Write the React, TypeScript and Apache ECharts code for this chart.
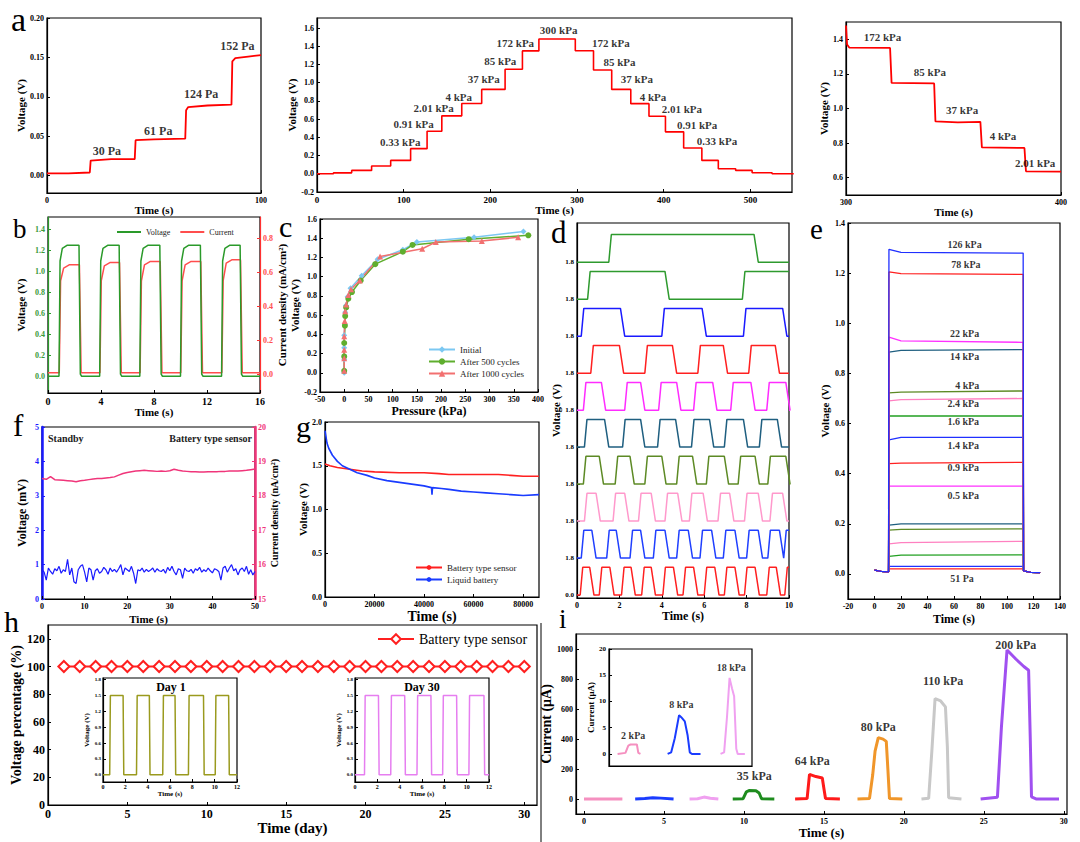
import React, { useEffect, useRef } from "react";
import * as echarts from "echarts";

const FONT = "'Liberation Serif', 'Times New Roman', Times, serif";

// ---------- panel a (left) ----------
const A1_POINTS = [[0,0.003],[10,0.003],[20,0.004],[20.4,0.019],[30,0.021],[41,0.021],[41.4,0.045],[50,0.046],[64.6,0.047],[65,0.083],[66,0.087],[75,0.089],[86.2,0.09],[86.6,0.145],[88,0.149],[94,0.151],[100,0.153]];
const A1_LABELS: [string, number, number][] = [["30 Pa",28,0.031],["61 Pa",52,0.057],["124 Pa",72,0.103],["152 Pa",89,0.165]];
const A1_Y_TICKS = [0,0.05,0.1,0.15,0.2];
const A1_X_TICKS = [0,100];

// ---------- panel a (middle) ----------
const A2_TIMES = [0,19,40,63,85,108,127,144,167,190,217,237,256,298,319,340,362,383,402,423,444,463,483,502,525,550];
const A2_LEVELS = [0,0.01,0.037,0.085,0.147,0.276,0.467,0.636,0.772,0.926,1.147,1.349,1.48,1.35,1.14,0.926,0.77,0.632,0.46,0.283,0.147,0.055,0.037,0.011,0,0];
const A2_LABELS: [string, number, number][] = [["0.33 kPa",96,0.35],["0.91 kPa",111.5,0.544],["2.01 kPa",134.6,0.717],["4 kPa",163.5,0.846],["37 kPa",192.3,1.037],["85 kPa",211.5,1.239],["172 kPa",228.8,1.434],["300 kPa",278.8,1.58],["172 kPa",339,1.434],["85 kPa",349,1.23],["37 kPa",369,1.037],["4 kPa",387.7,0.846],["2.01 kPa",421,0.706],["0.91 kPa",438.5,0.54],["0.33 kPa",461.5,0.36]];
const A2_Y_TICKS = [-0.2,0,0.2,0.4,0.6,0.8,1.0,1.2,1.4,1.6];
const A2_X_TICKS = [0,100,200,300,400,500];

// ---------- panel a (right) ----------
const A3_POINTS = [[300,1.48],[300.5,1.37],[301.5,1.352],[320.5,1.35],[321.2,1.148],[341,1.145],[341.6,0.925],[352,0.92],[362.5,0.923],[363.2,0.775],[383,0.772],[383.7,0.637],[400,0.635]];
const A3_LABELS: [string, number, number][] = [["172 kPa",317,1.415],["85 kPa",339,1.21],["37 kPa",354,0.99],["4 kPa",373,0.84],["2.01 kPa",388,0.685]];
const A3_Y_TICKS = [0.6,0.8,1.0,1.2,1.4];
const A3_X_TICKS = [300,400];

// ---------- panel b ----------
const B_EDGES = [0.83,2.34,3.9,5.37,6.93,8.44,10.0,11.5,13.1,14.5];
const B_VOLT_HIGH = [1.25,1.25,1.25,1.25,1.25];
const B_CURR_HIGH = [0.644,0.657,0.663,0.663,0.673];
const B_X_TICKS = [0,4,8,12,16];
const B_YL_TICKS = [0,0.2,0.4,0.6,0.8,1.0,1.2,1.4];
const B_YR_TICKS = [0,0.2,0.4,0.6,0.8];

// ---------- panel c ----------
const C_INITIAL = [[0,0],[0,0.14],[0,0.26],[0,0.39],[1.4,0.5],[2,0.63],[3.5,0.7],[7,0.79],[13,0.88],[36,1.01],[69,1.18],[121,1.28],[150,1.36],[268,1.41],[370,1.47]];
const C_500 = [[0,0.02],[0,0.17],[0,0.31],[1.4,0.49],[2,0.59],[4,0.68],[8.5,0.77],[16,0.84],[34,0.96],[64,1.13],[121,1.26],[141,1.33],[257,1.39],[380,1.43]];
const C_1000 = [[0,0.02],[0,0.15],[0,0.24],[0,0.38],[1,0.54],[2,0.64],[4,0.71],[8.5,0.81],[14,0.87],[32,0.96],[74,1.21],[161,1.29],[189,1.36],[284,1.37],[359,1.41]];
const C_X_TICKS = [-50,0,50,100,150,200,250,300,350,400];
const C_Y_TICKS = [-0.2,0,0.2,0.4,0.6,0.8,1.0,1.2,1.4,1.6];

// ---------- panel d (top trace first) ----------
const D_EDGES = [
  [1.5,8.35],
  [0.5,4.15,7.8],
  [0.2,2.05,4.0,5.9,7.85,9.7],
  [0.65,2.0,3.2,4.5,5.7,6.9,8.1,9.35],
  [0.3,1.15,2.25,3.0,3.85,4.7,5.5,6.4,7.25,8.2,8.95,9.85],
  [0.35,1.3,2.15,3.0,3.8,4.65,5.4,6.25,6.95,7.85,8.6,9.45],
  [0.3,1.05,1.8,2.5,3.2,4.0,4.7,5.45,6.1,6.95,7.6,8.4,9.0,9.85],
  [0.35,0.9,1.7,2.25,2.9,3.5,4.15,4.75,5.3,5.95,6.65,7.2,7.9,8.55,9.1,9.7],
  [0.2,0.7,1.4,1.85,2.5,3.0,3.6,4.15,4.7,5.25,5.8,6.35,6.9,7.45,8.0,8.55,9.0,9.55,9.75],
  [0.15,0.6,1.05,1.55,2.1,2.55,3.05,3.5,4.05,4.55,5.0,5.5,6.0,6.5,6.95,7.45,7.9,8.4,8.95,9.4,9.8],
];
const D_COLORS = ["#2e9a2e","#2e9a2e","#1a1aff","#ff2020","#ff2cff","#1f5f80","#5d8a25","#ff99cc","#2040ff","#ff2020"];
const D_TICK_LABELS = ["0.0","1.8","1.8","1.8","1.8","1.8","1.8","1.8","1.8","1.8"];
const D_X_TICKS = [0,2,4,6,8,10];

// ---------- panel e (start, middle, end level) ----------
const E_LEVELS = [
  [1.295,1.283,1.28],[1.205,1.198,1.195],[0.945,0.93,0.924],[0.885,0.892,0.895],
  [0.722,0.725,0.73],[0.69,0.695,0.7],[0.63,0.63,0.63],[0.535,0.545,0.545],
  [0.44,0.442,0.445],[0.35,0.35,0.35],[0.195,0.2,0.2],[0.175,0.178,0.18],
  [0.12,0.125,0.13],[0.07,0.075,0.076],[0.03,0.03,0.03],[0.02,0.02,0.02],
];
const E_COLORS = ["#2030ff","#ff2020","#ff30ff","#1f5f80","#5d8a25","#ff80c0","#22a022","#2030ff","#ff2020","#ff30ff","#1f5f80","#5d8a25","#ff80c0","#22a022","#2030ff","#ff2020"];
const E_LABELS: [string, number, number][] = [["126 kPa",68,1.313],["78 kPa",69,1.233],["22 kPa",68,0.96],["14 kPa",68,0.869],["4 kPa",70,0.753],["2.4 kPa",67,0.68],["1.6 kPa",67,0.609],["1.4 kPa",67,0.513],["0.9 kPa",67,0.423],["0.5 kPa",67,0.313],["51 Pa",66,-0.02]];
const E_X_TICKS = [-20,0,20,40,60,80,100,120,140];
const E_Y_TICKS = [0,0.2,0.4,0.6,0.8,1.0,1.2,1.4];

// ---------- panel f ----------
const F_VOLT = [0.85,0.78,0.55,0.9,0.8,0.72,0.88,0.82,0.95,0.75,0.85,0.8,1.15,0.7,0.9,0.5,0.45,0.85,0.95,1.0,0.78,0.5,0.9,0.85,0.55,0.82,0.88,0.75,0.8,0.92,0.85,0.72,0.9,0.8,0.86,0.78,0.88,1.0,0.7,0.9,0.85,0.8,0.95,0.75,0.45,0.85,0.82,0.9,0.78,0.86,0.8,0.84,0.9,0.78,0.88,0.82,0.8,0.86,0.75,0.92,0.82,0.95,0.8,0.7,0.88,0.85,0.6,0.9,0.82,0.8,0.86,0.75,0.88,0.83,0.92,0.78,0.85,0.8,0.9,0.82,0.76,0.88,0.85,0.8,0.55,0.9,0.95,0.78,0.9,1.0,0.82,0.88,0.7,0.85,0.9,0.8,0.95,0.72,0.85,0.7,0.8];
const F_CURR = [18.5,18.48,18.56,18.47,18.46,18.45,18.44,18.43,18.41,18.44,18.45,18.47,18.49,18.5,18.5,18.52,18.53,18.55,18.6,18.65,18.68,18.7,18.72,18.73,18.74,18.73,18.72,18.71,18.72,18.71,18.73,18.77,18.74,18.72,18.71,18.7,18.7,18.69,18.69,18.7,18.7,18.7,18.71,18.71,18.72,18.72,18.72,18.73,18.74,18.76,18.78];
const F_X_TICKS = [0,10,20,30,40,50];
const F_YL_TICKS = [0,1,2,3,4,5];
const F_YR_TICKS = [15,16,17,18,19,20];

// ---------- panel g ----------
const G_SENSOR = [[0,1.52],[2000,1.5],[5000,1.48],[10000,1.46],[15000,1.44],[20000,1.43],[30000,1.42],[40000,1.42],[46000,1.41],[50000,1.4],[60000,1.4],[70000,1.4],[75000,1.39],[80000,1.38],[86400,1.38]];
const G_LIQUID = [[0,1.9],[300,1.85],[800,1.76],[1500,1.7],[3000,1.62],[5000,1.55],[7000,1.5],[10000,1.46],[13000,1.42],[17000,1.39],[20000,1.36],[25000,1.33],[30000,1.31],[35000,1.29],[40000,1.27],[43000,1.25],[43200,1.17],[43400,1.25],[47000,1.24],[50000,1.23],[55000,1.21],[60000,1.2],[65000,1.19],[70000,1.18],[75000,1.17],[80000,1.16],[86400,1.17]];
const G_X_TICKS = [0,20000,40000,60000,80000];
const G_Y_TICKS = [0,0.5,1.0,1.5,2.0];

// ---------- panel h ----------
const H_DAYS = [1,2,3,4,5,6,7,8,9,10,11,12,13,14,15,16,17,18,19,20,21,22,23,24,25,26,27,28,29,30];
const H_VALUES = [100,100,100,100,100,100,100,100,100,100,100,100,100,100,100,100,100,100,100,100,100,100,100,100,100,100,100,100,100,100];
const H_X_TICKS = [0,5,10,15,20,25,30];
const H_Y_TICKS = [0,20,40,60,80,100,120];
const H_DAY1_EDGES = [0.6,1.8,3.0,4.15,5.35,6.45,7.65,9.0,10.05,11.25];
const H_DAY30_EDGES = [0.85,2.1,3.2,4.45,5.55,6.8,7.85,9.1,10.2,11.55];
const H_INSET_HIGH = 1.5;
const H_IN_X_TICKS = [0,2,4,6,8,10,12];
const H_IN_Y_TICKS = [0,0.3,0.6,0.9,1.2,1.5,1.8];

// ---------- panel i ----------
const I_PINK = [[0,0],[0.6,1],[1.2,0],[1.8,1],[2.4,0]];
const I_BLUE = [[3.2,0],[3.8,3],[4.3,9],[4.8,6],[5.6,0]];
const I_VIOLET = [[6.6,0],[7.1,2],[7.5,13],[7.9,5],[8.4,0]];
const I_GREEN = [[9.3,0],[9.95,2],[10.15,48],[10.35,57],[10.75,55],[10.95,40],[11.1,2],[11.9,0]];
const I_RED = [[13.2,0],[13.95,3],[14.1,165],[14.5,150],[14.9,140],[15.0,70],[15.1,3],[16.0,0]];
const I_ORANGE = [[17.1,0],[17.85,3],[18.05,160],[18.2,320],[18.4,410],[18.7,400],[18.9,385],[19.0,200],[19.1,3],[19.9,0]];
const I_GRAY = [[21.1,0],[21.55,5],[21.75,320],[21.95,670],[22.3,655],[22.6,615],[22.72,350],[22.8,8],[23.6,0]];
const I_PURPLE = [[24.8,0],[25.85,12],[26.1,480],[26.45,995],[27.0,935],[27.5,885],[27.8,860],[27.9,420],[27.98,15],[28.3,0],[29.7,0]];
const I_LABELS: [string, number, number][] = [["35 kPa",10.65,156],["64 kPa",14.27,256],["80 kPa",18.4,483],["110 kPa",22.45,788],["200 kPa",27.0,1029]];
const I_X_TICKS = [0,5,10,15,20,25,30];
const I_Y_TICKS = [0,200,400,600,800,1000];
const I_IN_PINK = [[0.6,0],[1.15,0.2],[1.35,1.6],[1.5,1.8],[1.95,1.8],[2.05,0.2],[2.2,0]];
const I_IN_BLUE = [[4.1,0],[4.35,0.3],[4.6,3],[4.9,7.4],[5.05,7],[5.3,6.2],[5.5,3.5],[5.65,0.3],[5.8,0],[6.4,0]];
const I_IN_VIOLET = [[7.8,0],[8.05,0.3],[8.25,7],[8.43,14.5],[8.6,12.5],[8.75,11],[8.9,1],[9.0,0],[9.5,0]];
const I_IN_LABELS: [string, number, number][] = [["2 kPa",1.69,3.6],["8 kPa",5.06,9.4],["18 kPa",8.55,16.4]];
const I_IN_Y_TICKS = [0,5,10,15,20];

// ---------- helpers ----------
function squareWave(edges: number[], base: number, amp: number, end: number, rw: number, fw: number) {
  const pts: number[][] = [[0, base]];
  let high = false;
  for (const t of edges) {
    if (!high) pts.push([t, base], [t + rw, base + amp]);
    else pts.push([t, base + amp], [t + fw, base]);
    high = !high;
  }
  pts.push([end, high ? base + amp : base]);
  return pts;
}

const f0 = (v: number) => String(Math.round(v));
const f1 = (v: number) => v.toFixed(1);
const f2 = (v: number) => v.toFixed(2);

function buildOption() {
  const grids: any[] = [];
  const xAxes: any[] = [];
  const yAxes: any[] = [];
  const series: any[] = [];

  const addGrid = (l: number, t: number, r: number, b: number, bg?: string) => {
    grids.push({ left: l, top: t, width: r - l, height: b - t, show: true, borderColor: "#000", borderWidth: 1.2, backgroundColor: bg || "transparent", containLabel: false, outerBoundsMode: "none" });
    return grids.length - 1;
  };
  const axis = (o: any) => {
    const lineColor = o.lineColor || "#000";
    const a: any = {
      type: "value", gridIndex: o.grid, min: o.min, max: o.max, position: o.position,
      axisLine: { show: true, onZero: false, lineStyle: { color: lineColor, width: o.lw || 1.2 } },
      axisTick: { show: o.ticks !== false, inside: true, length: 3, lineStyle: { color: lineColor, width: 1 } },
      axisLabel: { show: !!o.labels, fontFamily: FONT, fontWeight: "bold", fontSize: o.fs || 8, color: o.color || "#000", margin: o.margin ?? 3, formatter: o.fmt },
      splitLine: { show: false },
      name: o.name, nameLocation: "middle", nameGap: o.gap,
      nameTextStyle: { fontFamily: FONT, fontWeight: "bold", fontSize: o.nfs || 11, color: o.nameColor || "#000" },
    };
    if (o.labels) { a.axisLabel.customValues = o.labels; a.axisTick.customValues = o.labels; }
    return a;
  };
  const addX = (o: any) => { xAxes.push(axis(o)); return xAxes.length - 1; };
  const addY = (o: any) => { yAxes.push(axis(o)); return yAxes.length - 1; };
  const line = (xi: number, yi: number, data: any[], color: string, width = 1.5, extra: any = {}) => {
    series.push({ type: "line", xAxisIndex: xi, yAxisIndex: yi, data, showSymbol: false, symbol: "none", silent: true, lineStyle: { color, width }, itemStyle: { color }, ...extra });
  };
  const texts = (xi: number, yi: number, items: [string, number, number][], fs: number, color = "#000") => {
    series.push({
      type: "scatter", xAxisIndex: xi, yAxisIndex: yi, symbol: "circle", symbolSize: 1, silent: true, z: 6,
      itemStyle: { color: "rgba(0,0,0,0)" },
      data: items.map(([t, x, y]) => ({ name: t, value: [x, y] })),
      label: { show: true, position: "inside", formatter: (p: any) => p.name, fontFamily: FONT, fontWeight: "bold", fontSize: fs, color },
    });
  };

  // a1
  let g = addGrid(47, 18, 261, 193);
  let xi = addX({ grid: g, min: 0, max: 100, labels: A1_X_TICKS, fmt: f0, name: "Time (s)", gap: 9, fs: 8 });
  let yi = addY({ grid: g, min: -0.022, max: 0.2, labels: A1_Y_TICKS, fmt: f2, name: "Voltage (V)", gap: 20, fs: 8 });
  line(xi, yi, A1_POINTS, "#ff0000", 1.8);
  texts(xi, yi, A1_LABELS, 12);

  // a2
  g = addGrid(317, 18, 792, 192);
  xi = addX({ grid: g, min: 0, max: 548, labels: A2_X_TICKS, fmt: f0, name: "Time (s)", gap: 10, fs: 9 });
  yi = addY({ grid: g, min: -0.2, max: 1.71, labels: A2_Y_TICKS, fmt: f1, name: "Voltage (V)", gap: 19, fs: 8 });
  line(xi, yi, A2_TIMES.map((t, i) => [t, A2_LEVELS[i]]), "#ff0000", 1.6, { step: "end" });
  texts(xi, yi, A2_LABELS, 11);

  // a3
  g = addGrid(846, 22, 1061, 195);
  xi = addX({ grid: g, min: 300, max: 400, labels: A3_X_TICKS, fmt: f0, name: "Time (s)", gap: 9, fs: 8 });
  yi = addY({ grid: g, min: 0.5, max: 1.5, labels: A3_Y_TICKS, fmt: f1, name: "Voltage (V)", gap: 17, fs: 8 });
  line(xi, yi, A3_POINTS, "#ff0000", 1.8);
  texts(xi, yi, A3_LABELS, 11);

  // b
  g = addGrid(48, 217, 260, 393);
  xi = addX({ grid: g, min: 0, max: 16, labels: B_X_TICKS, fmt: f0, name: "Time (s)", gap: 10, fs: 10 });
  yi = addY({ grid: g, min: -0.16, max: 1.52, labels: B_YL_TICKS, fmt: f1, name: "Voltage (V)", gap: 22, fs: 8, color: "#3a9a3a", lineColor: "#2a9a2a" });
  const yiR = addY({ grid: g, min: -0.107, max: 0.923, position: "right", labels: B_YR_TICKS, fmt: f1, name: "Current density (mA/cm²)", gap: 14, fs: 8, color: "#ff5050", lineColor: "#ff3030" });
  const bv: number[][] = [[0, 0]];
  const bi: number[][] = [[0, 0.012]];
  for (let k = 0; k < B_EDGES.length / 2; k++) {
    const r = B_EDGES[2 * k], f = B_EDGES[2 * k + 1], hv = B_VOLT_HIGH[k], hi = B_CURR_HIGH[k];
    bv.push([r, 0], [r + 0.08, 1.1], [r + 0.25, hv - 0.03], [r + 0.6, hv], [f, hv], [f + 0.1, 0.02], [f + 0.2, 0]);
    bi.push([r + 0.02, 0.012], [r + 0.12, 0.55], [r + 0.35, hi - 0.02], [r + 0.8, hi], [f + 0.03, hi], [f + 0.16, 0.012]);
  }
  bv.push([16, 0]);
  bi.push([16, 0.012]);
  series.push({ name: "Current", type: "line", xAxisIndex: xi, yAxisIndex: yiR, data: bi, showSymbol: false, symbol: "none", silent: true, lineStyle: { color: "#ff4d4d", width: 1.5 }, itemStyle: { color: "#ff4d4d" } });
  series.push({ name: "Voltage", type: "line", xAxisIndex: xi, yAxisIndex: yi, data: bv, showSymbol: false, symbol: "none", silent: true, lineStyle: { color: "#2a9a2a", width: 1.5 }, itemStyle: { color: "#2a9a2a" } });

  // c
  g = addGrid(320, 219, 538, 392);
  xi = addX({ grid: g, min: -50, max: 400, labels: C_X_TICKS, fmt: f0, name: "Pressure (kPa)", gap: 13, fs: 8, nfs: 12 });
  yi = addY({ grid: g, min: -0.2, max: 1.6, labels: C_Y_TICKS, fmt: f1, name: "Voltage (V)", gap: 15, fs: 8 });
  const cSeries: [string, number[][], string, string][] = [["Initial", C_INITIAL, "#7cc8f2", "diamond"], ["After 500 cycles", C_500, "#5fae2e", "circle"], ["After 1000 cycles", C_1000, "#f27070", "triangle"]];
  for (const [nm, d, col, sym] of cSeries) {
    series.push({ name: nm, type: "line", xAxisIndex: xi, yAxisIndex: yi, data: d, symbol: sym, symbolSize: 6, showSymbol: true, silent: true, lineStyle: { color: col, width: 1.5 }, itemStyle: { color: col } });
  }

  // d
  g = addGrid(577, 223, 789, 598);
  xi = addX({ grid: g, min: 0, max: 10, labels: D_X_TICKS, fmt: f0, name: "Time (s)", gap: 12, fs: 8, nfs: 12 });
  yi = addY({ grid: g, min: -0.08, max: 10.06, labels: [0, 1, 2, 3, 4, 5, 6, 7, 8, 9], fmt: (v: number) => D_TICK_LABELS[Math.round(v)], name: "Voltage (V)", gap: 14, fs: 7 });
  D_EDGES.forEach((edges, i) => {
    line(xi, yi, squareWave(edges, 9 - i, 0.75, 10, 0.12, 0.2), D_COLORS[i], 1.5);
  });

  // e
  g = addGrid(848, 223, 1060, 599);
  xi = addX({ grid: g, min: -20, max: 140, labels: E_X_TICKS, fmt: f0, name: "Time (s)", gap: 14, fs: 8, nfs: 12 });
  yi = addY({ grid: g, min: -0.1, max: 1.4, labels: E_Y_TICKS, fmt: f1, name: "Voltage (V)", gap: 18, fs: 8 });
  for (let i = E_LEVELS.length - 1; i >= 0; i--) {
    const [l0, l1, l2] = E_LEVELS[i];
    line(xi, yi, [[0, 0.015], [5, 0.01], [10.6, 0.008], [10.9, l0], [20, l1], [112.2, l2], [112.5, 0.012], [118, 0.006], [125, 0.005]], E_COLORS[i], 1.3);
  }
  texts(xi, yi, E_LABELS, 10);

  // f
  g = addGrid(42, 427, 255, 599);
  xi = addX({ grid: g, min: 0, max: 50, labels: F_X_TICKS, fmt: f0, name: "Time (s)", gap: 14, fs: 8, nfs: 11 });
  yi = addY({ grid: g, min: 0, max: 5, labels: F_YL_TICKS, fmt: f0, name: "Voltage (mV)", gap: 14, fs: 8, color: "#1a1aff", lineColor: "#1a1aff", lw: 2.5, nfs: 12 });
  const yfR = addY({ grid: g, min: 15, max: 20, position: "right", labels: F_YR_TICKS, fmt: f0, name: "Current density (nA/cm²)", gap: 14, fs: 8, color: "#f0357a", lineColor: "#f0357a", lw: 2.5, nfs: 10 });
  line(xi, yi, F_VOLT.map((v, k) => [k * 0.5, v]), "#1a1aff", 1.2);
  line(xi, yfR, F_CURR.map((v, k) => [k, v]), "#f0357a", 1.5);

  // g
  g = addGrid(325, 422, 539, 597);
  xi = addX({ grid: g, min: 0, max: 86400, labels: G_X_TICKS, fmt: f0, name: "Time (s)", gap: 12, fs: 8, nfs: 14 });
  yi = addY({ grid: g, min: 0, max: 2.0, labels: G_Y_TICKS, fmt: f1, name: "Voltage (V)", gap: 13, fs: 8 });
  series.push({ name: "Battery type sensor", type: "line", xAxisIndex: xi, yAxisIndex: yi, data: G_SENSOR, symbol: "circle", symbolSize: 3, showSymbol: false, silent: true, lineStyle: { color: "#ff2020", width: 1.6 }, itemStyle: { color: "#ff2020" } });
  series.push({ name: "Liquid battery", type: "line", xAxisIndex: xi, yAxisIndex: yi, data: G_LIQUID, symbol: "circle", symbolSize: 3, showSymbol: false, silent: true, lineStyle: { color: "#1a3cff", width: 1.6 }, itemStyle: { color: "#1a3cff" } });

  // h
  g = addGrid(48, 625, 537, 805);
  xi = addX({ grid: g, min: 0, max: 30.8, labels: H_X_TICKS, fmt: f0, name: "Time (day)", gap: 14, fs: 12, nfs: 15 });
  yi = addY({ grid: g, min: 0, max: 130, labels: H_Y_TICKS, fmt: f0, name: "Voltage percentage (%)", gap: 22, fs: 12, nfs: 14 });
  series.push({ name: "h_battery", type: "line", xAxisIndex: xi, yAxisIndex: yi, data: H_DAYS.map((d, k) => [d, H_VALUES[k]]), symbol: "emptyDiamond", symbolSize: 11, showSymbol: true, silent: true, lineStyle: { color: "#ff2020", width: 2 }, itemStyle: { color: "#ff2020", borderWidth: 1.5 } });

  const insets: [number, number, number[], string][] = [[103, 237, H_DAY1_EDGES, "#9a9a1e"], [355, 489, H_DAY30_EDGES, "#e67ef0"]];
  for (const [l, r, edges, col] of insets) {
    g = addGrid(l, 678, r, 782, "#fff");
    xi = addX({ grid: g, min: 0, max: 12, labels: H_IN_X_TICKS, fmt: f0, name: "Time (s)", gap: 6, fs: 6, nfs: 7, margin: 2 });
    yi = addY({ grid: g, min: -0.138, max: 1.83, labels: H_IN_Y_TICKS, fmt: f1, name: "Voltage (V)", gap: 12, fs: 5, nfs: 7, margin: 2 });
    line(xi, yi, squareWave(edges, 0, H_INSET_HIGH, 12, 0.06, 0.06), col, 1.5);
  }

  // i
  g = addGrid(576, 634, 1067, 814);
  xi = addX({ grid: g, min: -0.5, max: 30.2, labels: I_X_TICKS, fmt: f0, name: "Time (s)", gap: 8, fs: 8, nfs: 13 });
  yi = addY({ grid: g, min: -100, max: 1102, labels: I_Y_TICKS, fmt: f0, name: "Current (μA)", gap: 18, fs: 8, nfs: 14 });
  const iSeries: [number[][], string][] = [[I_PINK, "#f590c0"], [I_BLUE, "#1a3cff"], [I_VIOLET, "#f0a0f0"], [I_GREEN, "#1e8c1e"], [I_RED, "#ff1a1a"], [I_ORANGE, "#f0962a"], [I_GRAY, "#c8c8c8"], [I_PURPLE, "#a050f0"]];
  for (const [d, col] of iSeries) line(xi, yi, d, col, 3);
  texts(xi, yi, I_LABELS, 12);

  g = addGrid(609, 649, 752, 766, "#fff");
  xi = addX({ grid: g, min: 0, max: 10, ticks: false });
  yi = addY({ grid: g, min: -2.3, max: 20, labels: I_IN_Y_TICKS, fmt: f0, name: "Current (μA)", gap: 11, fs: 7, nfs: 9 });
  const iiSeries: [number[][], string][] = [[I_IN_PINK, "#f590c0"], [I_IN_BLUE, "#1a3cff"], [I_IN_VIOLET, "#f0a0f0"]];
  for (const [d, col] of iiSeries) line(xi, yi, d, col, 2);
  texts(xi, yi, I_IN_LABELS, 10);

  const letters: [string, number, number, number][] = [["a", 11, 19, 34], ["b", 13, 229, 27], ["c", 279, 226, 30], ["d", 551, 232, 31], ["e", 810, 229, 29], ["f", 13, 425, 31], ["g", 296, 426, 30], ["h", 4, 621, 30], ["i", 559, 619, 27]];
  const graphic: any[] = letters.map(([t, x, y, s]) => ({ type: "text", x, y, silent: true, z: 100, style: { text: t, fontFamily: FONT, fontSize: s, fill: "#000", align: "left", verticalAlign: "middle" } }));
  graphic.push({ type: "text", x: 48, y: 438, silent: true, z: 100, style: { text: "Standby", fontFamily: FONT, fontWeight: "bold", fontSize: 10, fill: "#222", align: "left", verticalAlign: "middle" } });
  graphic.push({ type: "text", x: 252, y: 438, silent: true, z: 100, style: { text: "Battery type sensor", fontFamily: FONT, fontWeight: "bold", fontSize: 10, fill: "#222", align: "right", verticalAlign: "middle" } });
  graphic.push({ type: "text", x: 171, y: 687, silent: true, z: 100, style: { text: "Day 1", fontFamily: FONT, fontWeight: "bold", fontSize: 12, fill: "#000", align: "center", verticalAlign: "middle" } });
  graphic.push({ type: "text", x: 422, y: 687, silent: true, z: 100, style: { text: "Day 30", fontFamily: FONT, fontWeight: "bold", fontSize: 12, fill: "#000", align: "center", verticalAlign: "middle" } });
  graphic.push({ type: "line", silent: true, z: 100, shape: { x1: 541, y1: 623, x2: 541, y2: 842 }, style: { stroke: "#000", lineWidth: 1 } });

  const legendText = { fontFamily: FONT, fontSize: 9, color: "#222" };
  const legend = [
    { data: ["Voltage", "Current"], left: 112, top: 223, icon: "rect", itemWidth: 24, itemHeight: 2, itemGap: 10, textStyle: { ...legendText, fontSize: 8 } },
    { data: ["Initial", "After 500 cycles", "After 1000 cycles"], orient: "vertical", left: 423, top: 340, itemWidth: 26, itemHeight: 8, itemGap: 3, textStyle: legendText },
    { data: ["Battery type sensor", "Liquid battery"], orient: "vertical", left: 410, top: 558, itemWidth: 26, itemHeight: 6, itemGap: 3, textStyle: legendText },
    { data: ["h_battery"], formatter: () => "Battery type sensor", left: 372, top: 627, itemWidth: 36, itemHeight: 12, textStyle: { ...legendText, fontSize: 14, color: "#000" } },
  ];

  return { animation: false, backgroundColor: "#fff", grid: grids, xAxis: xAxes, yAxis: yAxes, series, legend, graphic };
}

export default function App() {
  const ref = useRef<HTMLDivElement>(null);
  useEffect(() => {
    const chart = echarts.init(ref.current!, null, { renderer: "svg", width: 1080, height: 842 });
    chart.setOption(buildOption() as any);
    return () => chart.dispose();
  }, []);
  return <div ref={ref} style={{ position: "absolute", left: 0, top: 0, width: 1080, height: 842, background: "#fff" }} />;
}
